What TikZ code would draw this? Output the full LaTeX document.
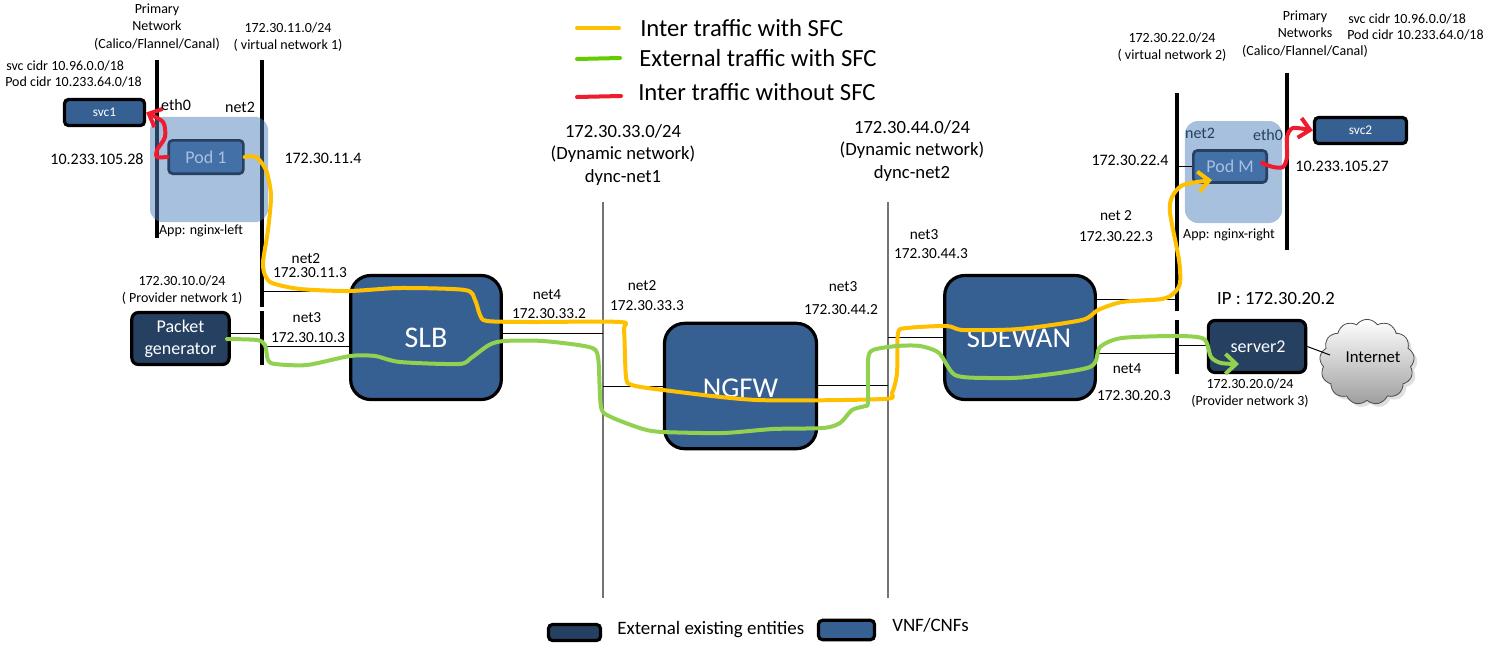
\documentclass[tikz,border=0pt]{standalone}
\usepackage{fontspec}
\setmainfont{Carlito}
\usetikzlibrary{arrows.meta,shapes.symbols,shadows}
\definecolor{vnfblue}{HTML}{376092}
\definecolor{extblue}{HTML}{264061}
\definecolor{podblue}{HTML}{4470A8}
\definecolor{podpale}{HTML}{A9C0DE}
\definecolor{podshade}{HTML}{4F81BD}
\definecolor{wireorange}{HTML}{FFC000}
\definecolor{wiregreen}{HTML}{92D050}
\definecolor{keygreen}{HTML}{66CC00}
\definecolor{wirered}{HTML}{EE1C2E}
\tikzset{
  vnf/.style={draw=black,line width=2.4pt,rounded corners=15pt,fill=vnfblue,text=white,
    minimum width=113pt,minimum height=93pt,inner sep=0pt,font=\fontsize{21.5}{26}\selectfont},
  extbox/.style={draw=black,line width=2.4pt,rounded corners=5pt,fill=extblue,text=white,
    minimum width=73pt,minimum height=39pt,inner sep=0pt,align=center,font=\fontsize{13.5}{16.5}\selectfont},
  svcbox/.style={draw=black,line width=2.4pt,rounded corners=3pt,fill=vnfblue,text=white,
    minimum height=19.5pt,inner sep=0pt,font=\fontsize{10}{12}\selectfont},
  podbox/.style={draw=extblue,line width=2pt,rounded corners=3pt,fill=podblue,text=podpale,
    minimum width=56pt,minimum height=25pt,inner sep=0pt,font=\fontsize{13.5}{15}\selectfont},
  podarea/.style={rounded corners=10pt,fill=podshade,fill opacity=.5,inner sep=0pt},
  netbar/.style={line width=3pt},
  dynline/.style={line width=.8pt,black!55},
  link/.style={line width=.75pt},
  wire/.style={line width=3pt,line cap=round,line join=round},
  barb/.style={-{Straight Barb[length=8pt,width=15pt]}},
  lbl/.style={inner sep=0pt,align=center,font=\fontsize{10.5}{13}\selectfont},
  netlbl/.style={inner sep=0pt,align=center,font=\fontsize{11.5}{14}\selectfont},
  midlbl/.style={inner sep=0pt,align=center,font=\fontsize{12}{14}\selectfont},
  biglbl/.style={inner sep=0pt,align=center,font=\fontsize{14}{17}\selectfont},
  keylbl/.style={inner sep=0pt,anchor=west,font=\fontsize{18.5}{22}\selectfont},
  notelbl/.style={inner sep=0pt,anchor=west,font=\fontsize{14.2}{17}\selectfont}
}

\begin{document}
\begin{tikzpicture}[x=.75pt,y=-.75pt]
  \useasboundingbox (0,0) rectangle (1494,654);

  \coordinate (pri1top) at (157,60);
  \coordinate (pri1end) at (157,238);
  \coordinate (vn1top) at (262,60);
  \coordinate (vn1end) at (262,307);
  \coordinate (pn1top) at (262,311);
  \coordinate (pn1end) at (262,365);
  \coordinate (dyn1top) at (603,202);
  \coordinate (dyn1end) at (603,598);
  \coordinate (dyn2top) at (888,202);
  \coordinate (dyn2end) at (888,598);
  \coordinate (vn2top) at (1177,93);
  \coordinate (vn2end) at (1177,311);
  \coordinate (pn3top) at (1177,320);
  \coordinate (pn3end) at (1177,374);
  \coordinate (pri2top) at (1287,73);
  \coordinate (pri2end) at (1287,250);
  \draw[netbar] (pri1top) -- (pri1end);
  \draw[netbar] (vn1top) -- (vn1end);
  \draw[netbar] (pn1top) -- (pn1end);
  \draw[netbar] (vn2top) -- (vn2end);
  \draw[netbar] (pn3top) -- (pn3end);
  \draw[netbar] (pri2top) -- (pri2end);
  \draw[dynline] (dyn1top) -- (dyn1end);
  \draw[dynline] (dyn2top) -- (dyn2end);

  \node[vnf,font=\fontsize{22.5}{26}\selectfont] (slb) at (426,337.5) {SLB};
  \node[vnf,minimum width=114pt,minimum height=94pt] (ngfw) at (740.5,386) {};
  \node[vnf] (sdewan) at (1020,337.5) {};
  \node[extbox] (pktgen) at (180.5,338.5) {Packet\\generator};
  \node[extbox] (server2) at (1257,346.5) {};
  \node[svcbox,minimum width=60pt] (svc1) at (104.5,112.5) {svc1};
  \node[svcbox,minimum width=69pt] (svc2) at (1360.5,130.5) {svc2};
  \node[cloud,cloud puffs=13,cloud puff arc=110,aspect=1.1,draw=black!70,line width=.6pt,
    top color=white,bottom color=black!38,drop shadow={opacity=.25},
    minimum width=71pt,minimum height=64pt,inner sep=0pt] (inet) at (1367,362) {};

  \coordinate (tapslbn2) at (262,291);
  \coordinate (tappkt) at (262,333);
  \coordinate (tapslbn3) at (262,346);
  \coordinate (tapslbn4) at (603,333);
  \coordinate (tapngn2) at (603,386);
  \coordinate (tapngn3) at (888,385);
  \coordinate (tapsdn3) at (888,337);
  \coordinate (tapsdn2) at (1177,299);
  \coordinate (tapsdn4) at (1177,353);
  \coordinate (tapsrv) at (1177,345);
  \coordinate (tappodm) at (1177,166);
  \coordinate (tapinet) at (1330,355);
  \draw[link] (tapslbn2) -- (slb.west |- tapslbn2);
  \draw[link] (tappkt) -- (pktgen.east |- tappkt);
  \draw[link] (tapslbn3) -- (slb.west |- tapslbn3);
  \draw[link] (tapslbn4) -- (slb.east |- tapslbn4);
  \draw[link] (tapngn2) -- (ngfw.west |- tapngn2);
  \draw[link] (tapngn3) -- (ngfw.east |- tapngn3);
  \draw[link] (tapsdn3) -- (sdewan.west |- tapsdn3);
  \draw[link] (tapsdn2) -- (sdewan.east |- tapsdn2);
  \draw[link] (tapsdn4) -- (sdewan.east |- tapsdn4);
  \draw[link] (tapsrv) -- (server2.west |- tapsrv);
  \draw[link] (server2.east) -- (tapinet);

  \node[podarea,minimum width=88.5pt,minimum height=79pt] (pod1area) at (209,169.5) {};
  \node[podarea,minimum width=73pt,minimum height=76.5pt] (podmarea) at (1233.5,172) {};
  \node[podbox] (pod1) at (206,157) {Pod 1};
  \node[podbox,minimum width=55pt,minimum height=24pt] (podm) at (1230,166.5) {Pod M};
  \draw[link] (tappodm) -- (podm.west |- tappodm);

  \node[vnf,draw=none,fill=none] (ngfwtxt) at (740.5,388) {NGFW};
  \node[vnf,draw=none,fill=none] (sdewantxt) at (1019,338) {SDEWAN};
  \node[inner sep=0pt,text=white,font=\fontsize{13.5}{15}\selectfont] (server2txt) at (1258,347) {server2};
  \node[inner sep=0pt,font=\fontsize{12.5}{15}\selectfont] (inettxt) at (1373,357) {Internet};

  \coordinate (podmin) at (1212,180);
  \coordinate (srvin) at (1239,364);
  \draw[wire,wireorange,barb] plot[smooth,tension=.45] coordinates {
    (pod1.east) (256,157) (266,170) (271,195) (268,230) (263,262) (265,275) (272,283) (300,289)
    (349,291) (400,288) (465,290) (475,300) (480,315) (487,321) (530,322) (620,322) (624,330)
    (626,377) (632,385) (663,390) (757,400) (883,399) (892,393) (897,373) (898,333) (907,328)
    (947,326) (963,330) (1019,329) (1082,320) (1098,310) (1122,302) (1162,299) (1174,293)
    (1180,283) (1179,260) (1170,213) (1172,197) (1183,185) (podmin) };
  \draw[wire,wiregreen,barb] plot[smooth,tension=.45] coordinates {
    (227,339) (257,340) (265,345) (268,360) (275,364) (307,365) (350,356) (375,356) (400,362)
    (459,364) (471,358) (489,345) (504,341) (543,341) (589,347) (598,357) (601,407) (611,417)
    (643,429) (663,432) (723,433) (773,429) (823,428) (840,423) (852,410) (865,406) (868,402)
    (868,360) (873,350) (897,346) (920,346) (939,353) (955,375) (987,378) (1027,377) (1090,367)
    (1100,347) (1122,338) (1178,336) (1204,339) (1211,357) (1221,363) (srvin) };
  \draw[wire,wirered,barb] plot[smooth,tension=.45] coordinates {
    (pod1.west) (157,157) (157,150) (165,137) (163,122) (svc1.east) };
  \draw[wire,wirered,barb] plot[smooth,tension=.45] coordinates {
    (1262,163) (1273,167) (1283,167) (1287,157) (1287,137) (1293,128) (svc2.west) };

  \node[lbl] (pri1lbl) at (157,27) {Primary\\Network\\(Calico/Flannel/Canal)};
  \node[lbl] (vn1lbl) at (288,37) {172.30.11.0/24\\( virtual network 1)};
  \node[lbl,anchor=west] (svc1cidr) at (6,66) {svc cidr 10.96.0.0/18};
  \node[lbl,anchor=west] (pod1cidr) at (5,82) {Pod cidr 10.233.64.0/18};
  \node[midlbl] (eth0l) at (176,105) {eth0};
  \node[midlbl] (net2l) at (240,107) {net2};
  \node[midlbl] (ip1) at (97,159) {10.233.105.28};
  \node[midlbl] (ip2) at (323,158) {172.30.11.4};
  \node[lbl] (appl) at (201,231) {App: nginx-left};
  \node[netlbl] (slbn2) at (306,259) {net2};
  \node[netlbl] (slbn2ip) at (310,273) {172.30.11.3};
  \node[lbl] (pn1lbl) at (182,290) {172.30.10.0/24\\( Provider network 1)};
  \node[netlbl] (slbn3) at (307,318) {net3};
  \node[netlbl] (slbn3ip) at (308,338) {172.30.10.3};
  \node[netlbl] (slbn4) at (547,295) {net4};
  \node[netlbl] (slbn4ip) at (549,314) {172.30.33.2};
  \node[netlbl] (ngn2) at (642,286) {net2};
  \node[netlbl] (ngn2ip) at (647,306) {172.30.33.3};
  \node[netlbl] (ngn3) at (843,287) {net3};
  \node[netlbl] (ngn3ip) at (841,310) {172.30.44.2};
  \node[netlbl] (sdn3) at (924,235) {net3};
  \node[netlbl] (sdn3ip) at (931,254) {172.30.44.3};
  \node[netlbl] (sdn2) at (1116,216) {net 2};
  \node[netlbl] (sdn2ip) at (1116,237) {172.30.22.3};
  \node[netlbl] (sdn4) at (1127,369) {net4};
  \node[netlbl] (sdn4ip) at (1134,396) {172.30.20.3};
  \node[biglbl] (dyn1lbl) at (623,155) {172.30.33.0/24\\(Dynamic network)\\dync-net1};
  \node[biglbl] (dyn2lbl) at (912,151) {172.30.44.0/24\\(Dynamic network)\\dync-net2};
  \node[lbl] (vn2lbl) at (1172,47) {172.30.22.0/24\\( virtual network 2)};
  \node[lbl] (pri2lbl) at (1305,34) {Primary\\Networks\\(Calico/Flannel/Canal)};
  \node[lbl,anchor=west] (svc2cidr) at (1348,19) {svc cidr 10.96.0.0/18};
  \node[lbl,anchor=west] (pod2cidr) at (1347,35) {Pod cidr 10.233.64.0/18};
  \node[midlbl,text=extblue] (net2r) at (1200,133) {net2};
  \node[midlbl,text=extblue] (eth0r) at (1268,135) {eth0};
  \node[midlbl] (ip3) at (1130,160) {172.30.22.4};
  \node[midlbl] (ip4) at (1342,166) {10.233.105.27};
  \node[lbl] (apprl) at (1229,235) {App: nginx-right};
  \node[biglbl] (srvip) at (1276,299) {IP : 172.30.20.2};
  \node[lbl] (pn3lbl) at (1250,393) {172.30.20.0/24\\(Provider network 3)};

  \coordinate (key1a) at (577,28);
  \coordinate (key1b) at (619,28);
  \coordinate (key2a) at (577,59);
  \coordinate (key2b) at (620,58);
  \coordinate (key3a) at (577,97);
  \coordinate (key3b) at (621,96);
  \draw[wire,wireorange] (key1a) -- (key1b);
  \draw[wire,keygreen] (key2a) -- (key2b);
  \draw[wire,wirered] (key3a) -- (key3b);
  \node[keylbl] (key1lbl) at (640,28) {Inter traffic with SFC};
  \node[keylbl] (key2lbl) at (639,58) {External traffic with SFC};
  \node[keylbl] (key3lbl) at (638,92) {Inter traffic without SFC};

  \node[extbox,minimum width=39pt,minimum height=12pt,rounded corners=3pt] (keyext) at (574.5,632.5) {};
  \node[vnf,minimum width=42pt,minimum height=14.5pt,rounded corners=3pt] (keyvnf) at (846.5,630) {};
  \node[notelbl] (keyextl) at (617,630) {External existing entities};
  \node[notelbl] (keyvnfl) at (892,625) {VNF/CNFs};
\end{tikzpicture}
\end{document}
